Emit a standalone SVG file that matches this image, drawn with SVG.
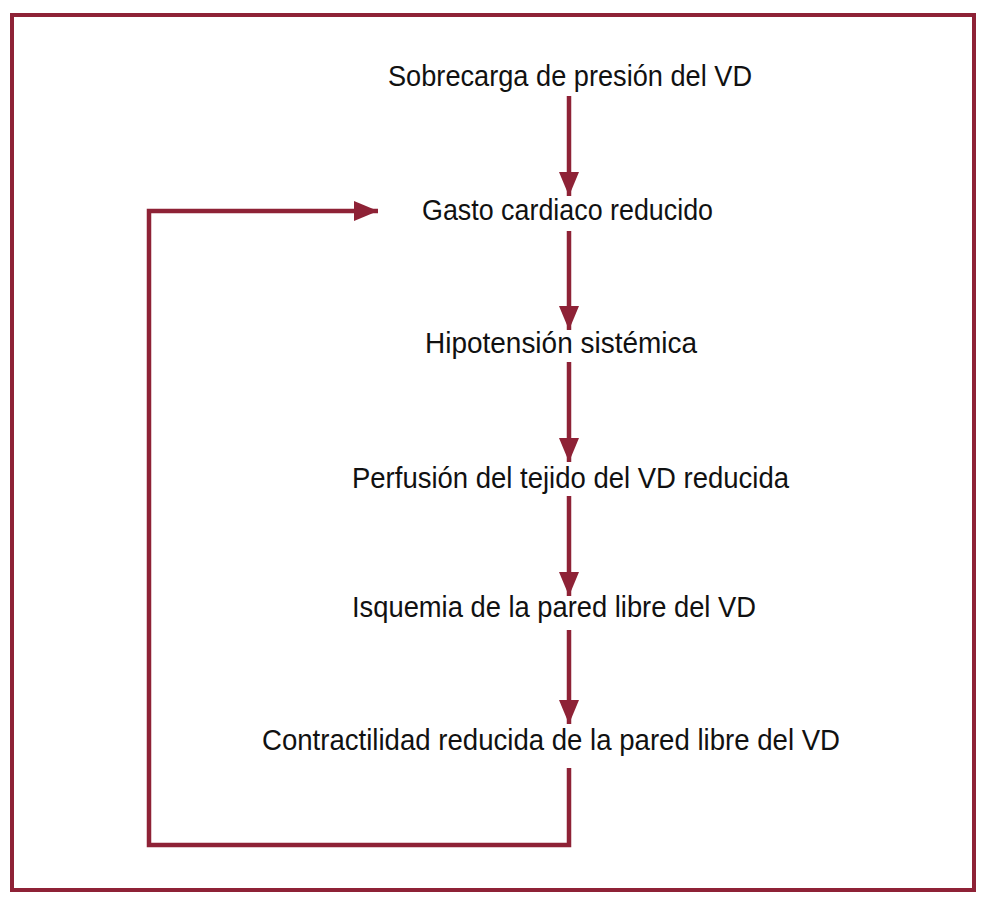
<svg xmlns="http://www.w3.org/2000/svg" width="987" height="900" viewBox="0 0 987 900">
<style>
.t{font-family:"Liberation Sans Narrow","Liberation Sans",Arial,sans-serif;font-size:29px;fill:#111;}
.c{fill:none;stroke:#8e2236;stroke-width:4.5;}
</style>
<defs>
<marker id="ah" viewBox="0 0 24 20" refX="24" refY="10" markerWidth="24" markerHeight="20" markerUnits="userSpaceOnUse" orient="auto">
<path d="M0,0 L24,10 L0,20 Z" fill="#8e2236"/>
</marker>
</defs>
<rect width="987" height="900" fill="#fff"/>
<rect x="12" y="15" width="962" height="875" fill="none" stroke="#8e2236" stroke-width="4"/>
<g id="connectors">
<line class="c" x1="569" y1="96" x2="569" y2="196" marker-end="url(#ah)"/>
<line class="c" x1="569" y1="231" x2="569" y2="330" marker-end="url(#ah)"/>
<line class="c" x1="569" y1="362" x2="569" y2="462" marker-end="url(#ah)"/>
<line class="c" x1="569" y1="496" x2="569" y2="596" marker-end="url(#ah)"/>
<line class="c" x1="569" y1="630" x2="569" y2="724" marker-end="url(#ah)"/>
<polyline class="c" points="569,768 569,845 149,845 149,211 378,211" marker-end="url(#ah)"/>
</g>
<g id="n1"><text class="t" x="388" y="86" textLength="364" lengthAdjust="spacingAndGlyphs">Sobrecarga de presión del VD</text></g>
<g id="n2"><text class="t" x="422" y="220" textLength="291" lengthAdjust="spacingAndGlyphs">Gasto cardiaco reducido</text></g>
<g id="n3"><text class="t" x="425" y="353" textLength="272" lengthAdjust="spacingAndGlyphs">Hipotensión sistémica</text></g>
<g id="n4"><text class="t" x="352" y="488" textLength="437" lengthAdjust="spacingAndGlyphs">Perfusión del tejido del VD reducida</text></g>
<g id="n5"><text class="t" x="352" y="617" textLength="404" lengthAdjust="spacingAndGlyphs">Isquemia de la pared libre del VD</text></g>
<g id="n6"><text class="t" x="262" y="750" textLength="578" lengthAdjust="spacingAndGlyphs">Contractilidad reducida de la pared libre del VD</text></g>
</svg>
